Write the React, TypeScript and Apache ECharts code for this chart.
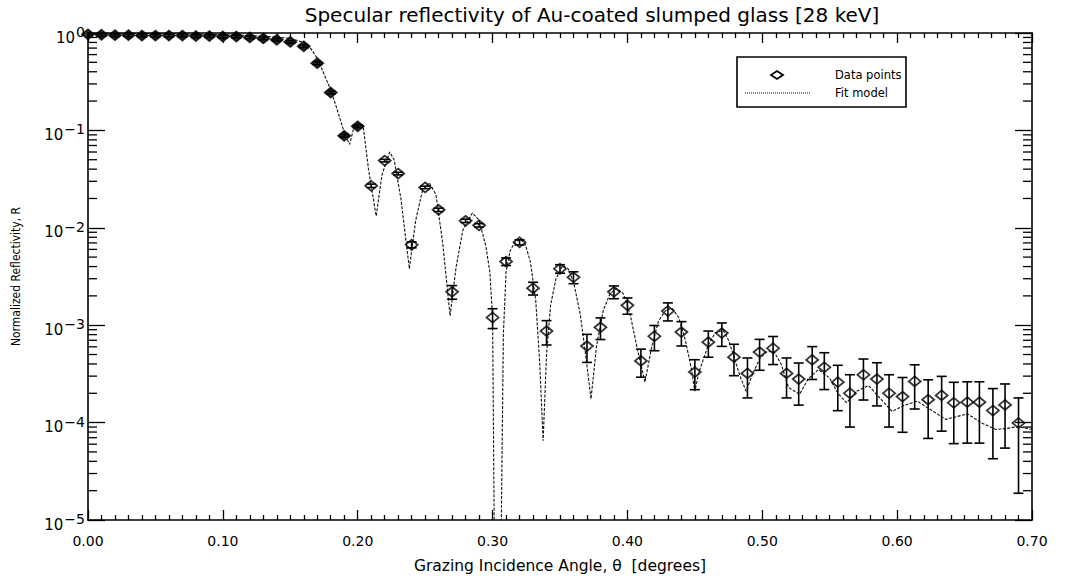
import React, { useEffect, useRef } from "react";
import * as echarts from "echarts";

// ---- Data ----
const angles = [
  0.0, 0.01, 0.02, 0.03, 0.04, 0.05, 0.06, 0.07, 0.08, 0.09,
  0.1, 0.11, 0.12, 0.13, 0.14, 0.15, 0.16, 0.17, 0.18, 0.19,
  0.2, 0.21, 0.22, 0.23, 0.24, 0.25, 0.26, 0.27, 0.28, 0.29,
  0.3, 0.31, 0.32, 0.33, 0.34, 0.35, 0.36, 0.37, 0.38, 0.39,
  0.4, 0.41, 0.42, 0.43, 0.44, 0.45, 0.46, 0.47, 0.479, 0.489,
  0.498, 0.508, 0.518, 0.527, 0.537, 0.546, 0.556, 0.565, 0.575, 0.585,
  0.594, 0.604, 0.613, 0.623, 0.633, 0.642, 0.652, 0.661, 0.671, 0.68,
  0.69,
];

const reflectivity = [
  0.97, 0.96, 0.95, 0.95, 0.94, 0.94, 0.94, 0.94, 0.93, 0.93,
  0.92, 0.92, 0.9, 0.88, 0.85, 0.81, 0.73, 0.49, 0.245, 0.088,
  0.11, 0.027, 0.049, 0.036, 0.0067, 0.026, 0.0153, 0.0022, 0.0118, 0.0106,
  0.0012, 0.0045, 0.0071, 0.0024, 0.00087, 0.0038, 0.0031, 0.00061, 0.00095, 0.0022,
  0.0016, 0.00043, 0.00077, 0.0014, 0.00085, 0.00033, 0.00067, 0.00083, 0.00047, 0.00032,
  0.00053, 0.00058, 0.00032, 0.00028, 0.00044, 0.00037, 0.00026, 0.0002, 0.00031, 0.00028,
  0.0002, 0.000185, 0.000265, 0.000172, 0.00019, 0.00016, 0.000162, 0.000162, 0.000133, 0.000152,
  0.000099,
];

// relative (fractional) error of each data point
const relError = [
  0.03, 0.03, 0.03, 0.03, 0.03, 0.03, 0.03, 0.03, 0.03, 0.03,
  0.03, 0.03, 0.03, 0.03, 0.03, 0.03, 0.03, 0.03, 0.03, 0.03,
  0.03, 0.04, 0.03, 0.03, 0.07, 0.03, 0.04, 0.16, 0.04, 0.04,
  0.23, 0.09, 0.06, 0.15, 0.28, 0.1, 0.14, 0.32, 0.25, 0.15,
  0.19, 0.32, 0.29, 0.21, 0.28, 0.34, 0.3, 0.27, 0.355, 0.44,
  0.35, 0.32, 0.44, 0.46, 0.37, 0.41, 0.49, 0.55, 0.45, 0.47,
  0.55, 0.57, 0.48, 0.6, 0.57, 0.62, 0.62, 0.62, 0.68, 0.64,
  0.81,
];

const fitAngles = [
  0.0, 0.04, 0.07, 0.1, 0.12, 0.14, 0.15, 0.16, 0.165, 0.17,
  0.175, 0.18, 0.185, 0.19, 0.194, 0.197, 0.2, 0.204, 0.208, 0.2137,
  0.218, 0.2237, 0.227, 0.232, 0.2383, 0.243, 0.248, 0.253, 0.258, 0.263,
  0.2685, 0.273, 0.278, 0.285, 0.29, 0.295, 0.298, 0.3, 0.3012, 0.3037,
  0.3065, 0.308, 0.31, 0.313, 0.3165, 0.3205, 0.324, 0.328, 0.332, 0.335,
  0.3375, 0.34, 0.343, 0.347, 0.352, 0.356, 0.36, 0.365, 0.369, 0.373,
  0.377, 0.382, 0.387, 0.392, 0.397, 0.402, 0.407, 0.413, 0.418, 0.423,
  0.428, 0.433, 0.438, 0.443, 0.4475, 0.45, 0.453, 0.46, 0.465, 0.471,
  0.475, 0.4793, 0.4835, 0.488, 0.493, 0.4984, 0.503, 0.5085, 0.514, 0.5194,
  0.5276, 0.534, 0.5416, 0.5497, 0.556, 0.5625, 0.57, 0.5788, 0.587, 0.5963,
  0.605, 0.615, 0.625, 0.636, 0.644, 0.6522, 0.662, 0.6732, 0.681, 0.6895,
  0.7,
];

const fitReflectivity = [
  1.0, 0.99, 0.98, 0.96, 0.94, 0.91, 0.88, 0.8, 0.7, 0.55,
  0.38, 0.26, 0.16, 0.095, 0.072, 0.105, 0.118, 0.112, 0.04, 0.0132,
  0.035, 0.06, 0.05, 0.02, 0.0038, 0.012, 0.024, 0.029, 0.022, 0.007,
  0.00125, 0.004, 0.0095, 0.0142, 0.012, 0.0065, 0.0035, 0.0012, 0.00001, 0.0000001,
  0.00001, 0.0008, 0.0035, 0.0058, 0.0071, 0.0076, 0.007, 0.0045, 0.0018, 0.0004,
  0.000065, 0.0005, 0.0016, 0.003, 0.0041, 0.0038, 0.0028, 0.0013, 0.0005, 0.000175,
  0.0006, 0.0014, 0.0021, 0.0024, 0.0021, 0.0013, 0.0006, 0.00026, 0.0006, 0.0011,
  0.0014, 0.0015, 0.0012, 0.0007, 0.00035, 0.00021, 0.00033, 0.00063, 0.00083, 0.00089,
  0.0007, 0.00046, 0.0003, 0.00021, 0.00032, 0.00046, 0.00053, 0.00054, 0.0004, 0.00023,
  0.000195, 0.00028, 0.00035, 0.00029, 0.0002, 0.00016, 0.00021, 0.00024, 0.00018, 0.00013,
  0.00015, 0.000166, 0.000135, 0.000108, 0.000115, 0.000123, 0.0001, 0.000085, 0.000087, 0.000091,
  0.000085,
];

const decades = [-5, -4, -3, -2, -1, 0];
const minorMultipliers = [2, 3, 4, 5, 6, 7, 8, 9];

const FONT = '"DejaVu Sans", Verdana, sans-serif';
const NARROW = '"Liberation Sans Narrow", "DejaVu Sans Condensed", "Liberation Sans", sans-serif';

export default function App() {
  const ref = useRef<HTMLDivElement>(null);

  useEffect(() => {
    if (!ref.current) return;
    const chart = echarts.init(ref.current, undefined, { renderer: "svg" });

    const points = angles.map((a, i) => [a, reflectivity[i]]);
    const bars = angles.map((a, i) => [
      a,
      reflectivity[i] * (1 - relError[i]),
      reflectivity[i] * (1 + relError[i]),
    ]);
    const fit = fitAngles.map((a, i) => [a, fitReflectivity[i]]);
    const minorVals: number[][] = [];
    decades.slice(0, -1).forEach((d) =>
      minorMultipliers.forEach((m) => minorVals.push([0, m * Math.pow(10, d)]))
    );

    const axisLine = { show: true, onZero: false, lineStyle: { color: "#000", width: 1.6 } };
    const xCommon = {
      type: "value",
      min: 0,
      max: 0.7,
      interval: 0.1,
      axisLine,
      axisTick: { show: true, inside: true, length: 10, lineStyle: { color: "#000", width: 1.3 } },
      minorTick: { show: true, splitNumber: 10, length: 5, lineStyle: { color: "#000", width: 1.3 } },
      splitLine: { show: false },
      minorSplitLine: { show: false },
    };
    const yCommon = {
      type: "log",
      logBase: 10,
      min: 1e-5,
      max: 1,
      splitNumber: 5,
      axisLine,
      axisTick: { show: true, inside: true, length: 17, lineStyle: { color: "#000", width: 1.3 } },
      splitLine: { show: false },
    };

    chart.setOption({
      animation: false,
      backgroundColor: "#ffffff",
      title: {
        text: "Specular reflectivity of Au-coated slumped glass [28 keV]",
        left: 587,
        top: 0,
        textAlign: "center",
        textStyle: { fontFamily: FONT, fontSize: 20, fontWeight: "normal", color: "#000" },
      },
      grid: { left: 88, right: 43, top: 33, bottom: 56 },
      xAxis: [
        {
          ...xCommon,
          position: "bottom",
          axisLabel: {
            formatter: (v: number) => v.toFixed(2),
            margin: 14,
            fontFamily: FONT,
            fontSize: 14,
            color: "#000",
          },
          name: "Grazing Incidence Angle, \u03b8  [degrees]",
          nameLocation: "middle",
          nameGap: 38,
          nameTextStyle: { fontFamily: FONT, fontSize: 15.5, color: "#000" },
        },
        { ...xCommon, position: "top", axisLabel: { show: false } },
      ],
      yAxis: [
        {
          ...yCommon,
          position: "left",
          axisLabel: {
            margin: 3,
            padding: [4, 0, 0, 0],
            formatter: (v: number) => {
              const e = Math.round(Math.log10(v));
              return "{b|10}{s|" + (e === 0 ? "0" : "\u2212" + -e) + "}";
            },
            rich: {
              b: { fontFamily: FONT, fontSize: 15, color: "#000", verticalAlign: "bottom", lineHeight: 20 },
              s: { fontFamily: FONT, fontSize: 14, color: "#000", verticalAlign: "top", lineHeight: 20, padding: [0, 0, 0, 1] },
            },
          },
          name: "Normalized Reflectivity, R",
          nameLocation: "middle",
          nameGap: 66,
          nameTextStyle: { fontFamily: NARROW, fontSize: 12, color: "#000" },
        },
        { ...yCommon, position: "right", axisLabel: { show: false } },
      ],
      graphic: [
        {
          type: "rect",
          shape: { x: 737, y: 57, width: 169, height: 50 },
          style: { fill: "#fff", stroke: "#000", lineWidth: 1.6 },
          z: 10,
        },
        {
          type: "polygon",
          shape: { points: [[771, 75], [777, 71], [783, 75], [777, 79]] },
          style: { fill: "none", stroke: "#000", lineWidth: 1.8 },
          z: 11,
        },
        {
          type: "text",
          x: 835,
          y: 75,
          style: { text: "Data points", fontFamily: FONT, fontSize: 11.5, fill: "#000", verticalAlign: "middle" },
          z: 11,
        },
        {
          type: "line",
          shape: { x1: 745, y1: 93, x2: 810, y2: 93 },
          style: { stroke: "#000", lineWidth: 1, lineDash: [1, 1] },
          z: 11,
        },
        {
          type: "text",
          x: 835,
          y: 93,
          style: { text: "Fit model", fontFamily: FONT, fontSize: 11.5, fill: "#000", verticalAlign: "middle" },
          z: 11,
        },
      ],
      series: [
        {
          name: "Fit model",
          type: "line",
          data: fit,
          showSymbol: false,
          symbol: "none",
          clip: true,
          lineStyle: { color: "#111", width: 1.1, type: [3, 1.5] },
          z: 1,
        },
        {
          name: "Data points",
          type: "scatter",
          data: points,
          symbol: "diamond",
          symbolSize: [12, 10],
          itemStyle: {
            color: (p: any) => (p.value[0] < 0.205 ? "#000" : "rgba(255,255,255,0)"),
            borderColor: "#000",
            borderWidth: 1.8,
          },
          z: 2,
        },
        {
          name: "Error bars",
          type: "custom",
          data: bars,
          encode: { x: 0, y: [1, 2] },
          clip: true,
          z: 3,
          renderItem: (params: any, api: any) => {
            const x = api.value(0);
            const lo = api.coord([x, api.value(1)]);
            const hi = api.coord([x, api.value(2)]);
            const hw = 5;
            const st = { stroke: "#000", lineWidth: 1.6 };
            return {
              type: "group",
              children: [
                { type: "line", shape: { x1: lo[0], y1: lo[1], x2: hi[0], y2: hi[1] }, style: st },
                { type: "line", shape: { x1: lo[0] - hw, y1: lo[1], x2: lo[0] + hw, y2: lo[1] }, style: st },
                { type: "line", shape: { x1: hi[0] - hw, y1: hi[1], x2: hi[0] + hw, y2: hi[1] }, style: st },
              ],
            };
          },
        },
        {
          name: "minor y ticks",
          type: "custom",
          data: minorVals,
          clip: false,
          silent: true,
          z: 4,
          renderItem: (params: any, api: any) => {
            const v = api.value(1);
            const l = api.coord([0, v]);
            const r = api.coord([0.7, v]);
            const st = { stroke: "#000", lineWidth: 1.3 };
            return {
              type: "group",
              children: [
                { type: "line", shape: { x1: l[0], y1: l[1], x2: l[0] + 9, y2: l[1] }, style: st },
                { type: "line", shape: { x1: r[0] - 9, y1: r[1], x2: r[0], y2: r[1] }, style: st },
              ],
            };
          },
        },
      ],
    });

    return () => chart.dispose();
  }, []);

  return (
    <div
      ref={ref}
      style={{ position: "fixed", left: 0, top: 0, width: 1075, height: 579, background: "#fff" }}
    />
  );
}
